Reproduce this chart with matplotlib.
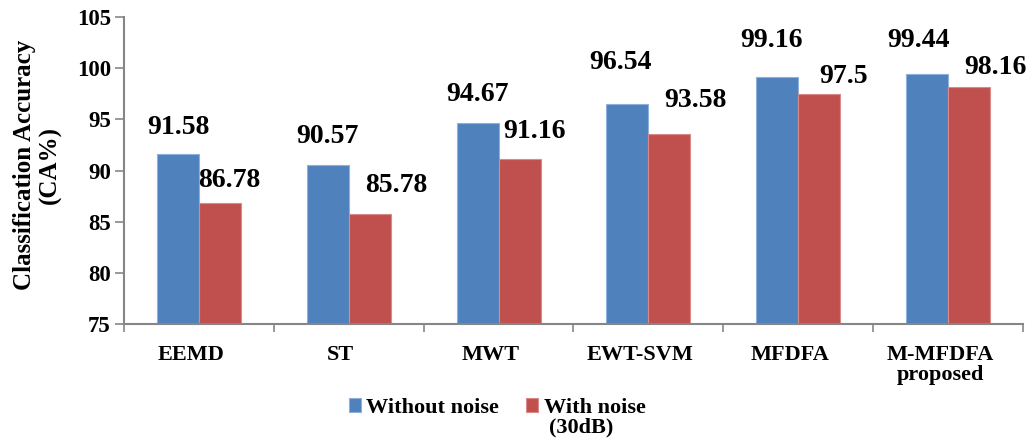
import matplotlib
matplotlib.use("Agg")
import matplotlib.pyplot as plt
import matplotlib.transforms as mtransforms
import numpy as np

# Classification accuracy per method
methods = ["EEMD", "ST", "MWT", "EWT-SVM", "MFDFA", "M-MFDFA\nproposed"]
without_noise = [91.58, 90.57, 94.67, 96.54, 99.16, 99.44]
with_noise = [86.78, 85.78, 91.16, 93.58, 97.5, 98.16]
series_names = ["Without noise", "With noise"]
series_note = "(30dB)"
y_ticks = [75, 80, 85, 90, 95, 100, 105]

# label nudges in pixels (dx, dy of label centre relative to bar top centre)
blue_nudge = [(0, 27), (0, 28), (0, 28), (-7, 41), (-6, 36), (-9, 33)]
red_nudge = [(9, 23), (27, 28), (15, 27), (26, 33), (24, 17), (26, 19)]

BLUE = "#4F81BD"
RED = "#C0504D"
GREY = "#868686"

plt.rcParams["font.family"] = ["Liberation Serif", "DejaVu Serif"]
plt.rcParams["font.weight"] = "bold"

fig = plt.figure(figsize=(10.32, 4.44), dpi=100)
ax = fig.add_axes([124 / 1032, 1 - 324 / 444, 899 / 1032, 307 / 444])

x = np.arange(len(methods))
w = 0.28
b1 = ax.bar(x - w / 2, np.array(without_noise) - 75, w, bottom=75, color=BLUE,
            edgecolor="#8DB0DC", linewidth=0.8, label=series_names[0])
b2 = ax.bar(x + w / 2, np.array(with_noise) - 75, w, bottom=75, color=RED,
            edgecolor="#DA8A88", linewidth=0.8, label=series_names[1])

for i in range(len(methods)):
    for vals, nudge, off in ((without_noise, blue_nudge, -w / 2),
                             (with_noise, red_nudge, w / 2)):
        ax.annotate(f"{vals[i]:g}", xy=(x[i] + off, vals[i]),
                    xytext=nudge[i], textcoords="offset pixels",
                    ha="center", va="center", fontsize=20, fontweight="bold")

ax.set_xlim(-0.5, len(methods) - 0.5)
ax.set_ylim(75, 105)
ax.set_yticks(y_ticks)
ax.tick_params(axis="y", direction="out", length=6.5, width=1.2, color=GREY,
               labelsize=16.5, pad=3)

# boundary tick marks between groups, names on minor ticks at group centres
ax.set_xticks(np.arange(-0.5, len(methods), 1.0))
ax.set_xticklabels([])
ax.set_xticks(x, minor=True)
ax.set_xticklabels(methods, minor=True, fontsize=16, fontweight="bold",
                   linespacing=1.0)
ax.tick_params(axis="x", which="major", direction="out", length=6, width=1.2,
               color=GREY)
ax.tick_params(axis="x", which="minor", length=0, pad=15)
shift = mtransforms.ScaledTranslation(-8 / 100, 0, fig.dpi_scale_trans)
for lbl in ax.get_xticklabels(minor=True):
    lbl.set_transform(lbl.get_transform() + shift)

for s in ("top", "right"):
    ax.spines[s].set_visible(False)
for s in ("left", "bottom"):
    ax.spines[s].set_color(GREY)
    ax.spines[s].set_linewidth(1.5)

ax.set_ylabel("Classification Accuracy\n(CA%)", fontsize=18, fontweight="bold",
              va="center", linespacing=1.1)
ax.yaxis.set_label_coords(-0.0962, 0.518)

leg = fig.legend(handles=[b1, b2], labels=series_names, loc="center",
                 bbox_to_anchor=(497 / 1032, 1 - 408 / 444), ncol=2,
                 frameon=False, handlelength=0.55,
                 handleheight=0.55, handletextpad=0.25, columnspacing=1.2,
                 borderpad=0, prop={"weight": "bold", "size": 16})

# second line of the noisy-series entry, set under its legend text
fig.canvas.draw()
tb = leg.get_texts()[1].get_window_extent()
fig.text(tb.x0 + 5, tb.y0 - 14, series_note, transform=None,
         ha="left", va="baseline", fontsize=16, fontweight="bold")

fig.savefig("out.png", dpi=100)
